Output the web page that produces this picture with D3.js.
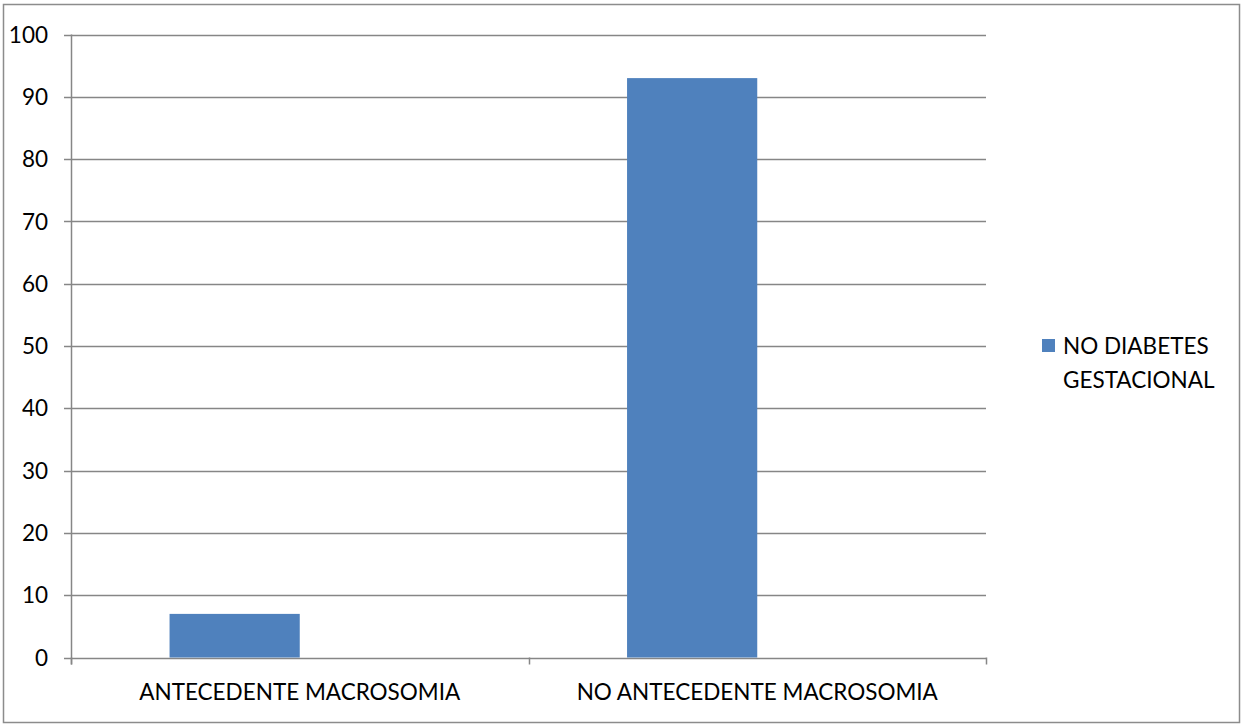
<!DOCTYPE html>
<html><head><meta charset="utf-8">
<script src="https://cdn.jsdelivr.net/npm/d3@7"></script>
<style>body{margin:0;background:#fff}svg{display:block}</style>
</head><body>
<script>
const categories = ["ANTECEDENTE MACROSOMIA", "NO ANTECEDENTE MACROSOMIA"];
const seriesNames = ["NO DIABETES GESTACIONAL"];
const values = [7, 93];
const yTicks = [0,10,20,30,40,50,60,70,80,90,100];
const legendLines = ["NO DIABETES", "GESTACIONAL"];

const W = 1242, H = 726;
const font = "Lato, 'Open Sans', sans-serif";
const svg = d3.select("body").append("svg").attr("width", W).attr("height", H);
svg.append("rect").attr("x",3.5).attr("y",4.5).attr("width",1236).attr("height",718)
  .attr("fill","#fff").attr("stroke","#8c8c8c").attr("stroke-width",1.5);

const L = 71, R = 986, T = 34.5, B = 657.5;
const x = d3.scaleBand().domain(categories).range([L, R]);
const sub = d3.scaleBand().domain(["s1","s2"]).range([0, x.bandwidth()]).paddingInner(0).paddingOuter(0.757);
const y = d3.scaleLinear().domain([0,100]).range([B, T]);

// gridlines
svg.append("g").selectAll("line").data(yTicks).join("line")
  .attr("x1", 64).attr("x2", R).attr("y1", d=>Math.round(y(d))+0.5).attr("y2", d=>Math.round(y(d))+0.5)
  .attr("stroke","#868686").attr("stroke-width",1.5);

// bars
svg.append("g").selectAll("rect").data(values).join("rect")
  .attr("x", (d,i)=>x(categories[i]) + sub("s1"))
  .attr("width", sub.bandwidth())
  .attr("y", d=>y(d)).attr("height", d=>y(0)-y(d))
  .attr("fill","#4F81BD");

// y axis line
svg.append("line").attr("x1",L+0.5).attr("x2",L+0.5).attr("y1",T).attr("y2",B+7)
  .attr("stroke","#868686").attr("stroke-width",1.5);
// x axis ticks at category boundaries
const bounds = [L, x(categories[1]), R];
svg.append("g").selectAll("line").data(bounds).join("line")
  .attr("x1", d=>Math.round(d)+0.5).attr("x2", d=>Math.round(d)+0.5).attr("y1", B).attr("y2", B+7)
  .attr("stroke","#868686").attr("stroke-width",1.5);

// y labels
svg.append("g").selectAll("text").data(yTicks).join("text")
  .attr("x", 48).attr("y", d=>y(d)).attr("dy","0.36em").attr("text-anchor","end")
  .attr("font-family", font).attr("font-size", 22.5).attr("fill","#000").text(d=>d);

// x labels
svg.append("g").selectAll("text").data(categories).join("text")
  .attr("x", d=>x(d)+x.bandwidth()/2).attr("y", 700).attr("text-anchor","middle")
  .attr("font-family", font).attr("font-size", 22.5).attr("fill","#000").text(d=>d);

// legend
svg.append("rect").attr("x",1042).attr("y",339).attr("width",13).attr("height",13).attr("fill","#4F81BD");
svg.append("g").selectAll("text").data(legendLines).join("text")
  .attr("x",1063).attr("y",(d,i)=>354+i*34)
  .attr("font-family", font).attr("font-size", 22.5).attr("fill","#000").text(d=>d);
</script>
</body></html>
